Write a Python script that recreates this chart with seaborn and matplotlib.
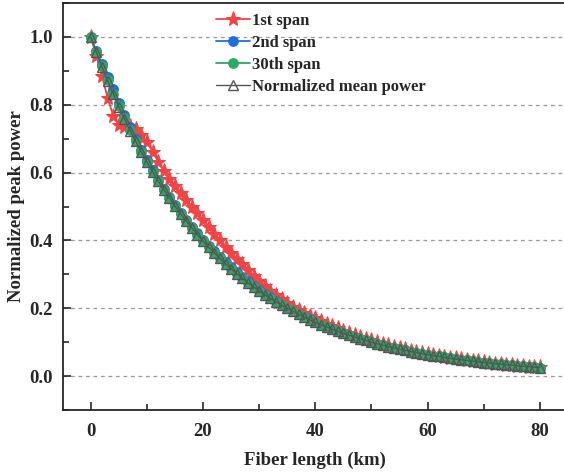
import numpy as np
import pandas as pd
import matplotlib
matplotlib.use('Agg')
import matplotlib.pyplot as plt
import seaborn as sns
from matplotlib.ticker import MultipleLocator

# fiber length (km), one point per km
fiber_km = list(range(0, 81))

# 1st span
span_1st = [1.000, 0.945, 0.885, 0.820, 0.768, 0.740, 0.735, 0.736, 0.728, 0.712,
            0.690, 0.662, 0.632, 0.606, 0.582, 0.560, 0.540, 0.520, 0.500, 0.480,
            0.460, 0.440, 0.420, 0.400, 0.380, 0.362, 0.345, 0.329, 0.312, 0.296,
            0.280, 0.265, 0.251, 0.238, 0.226, 0.215, 0.205, 0.196, 0.187, 0.178,
            0.170, 0.162, 0.155, 0.148, 0.141, 0.134, 0.128, 0.122, 0.116, 0.110,
            0.105, 0.100, 0.095, 0.091, 0.087, 0.083, 0.079, 0.075, 0.072, 0.069,
            0.066, 0.063, 0.060, 0.057, 0.054, 0.052, 0.050, 0.047, 0.045, 0.043,
            0.041, 0.039, 0.037, 0.036, 0.034, 0.032, 0.031, 0.030, 0.028, 0.027,
            0.026]

# 2nd span
span_2nd = [1.000, 0.958, 0.920, 0.882, 0.845, 0.806, 0.769, 0.734, 0.700, 0.667,
            0.636, 0.607, 0.579, 0.553, 0.528, 0.504, 0.482, 0.460, 0.440, 0.421,
            0.402, 0.385, 0.368, 0.352, 0.336, 0.321, 0.307, 0.293, 0.280, 0.267,
            0.255, 0.243, 0.232, 0.221, 0.211, 0.201, 0.192, 0.183, 0.175, 0.167,
            0.159, 0.152, 0.145, 0.138, 0.132, 0.126, 0.120, 0.115, 0.110, 0.105,
            0.100, 0.095, 0.091, 0.087, 0.083, 0.079, 0.076, 0.072, 0.069, 0.066,
            0.063, 0.060, 0.058, 0.055, 0.052, 0.050, 0.048, 0.046, 0.044, 0.042,
            0.040, 0.038, 0.036, 0.035, 0.033, 0.032, 0.030, 0.029, 0.028, 0.026,
            0.025]

# 30th span
span_30th = [1.000, 0.955, 0.913, 0.872, 0.833, 0.795, 0.760, 0.725, 0.693, 0.662,
             0.632, 0.603, 0.576, 0.550, 0.525, 0.501, 0.479, 0.457, 0.437, 0.417,
             0.398, 0.380, 0.363, 0.347, 0.331, 0.316, 0.302, 0.288, 0.275, 0.263,
             0.251, 0.240, 0.229, 0.219, 0.209, 0.200, 0.191, 0.182, 0.174, 0.166,
             0.158, 0.151, 0.145, 0.138, 0.132, 0.126, 0.120, 0.115, 0.110, 0.105,
             0.100, 0.095, 0.091, 0.087, 0.083, 0.079, 0.076, 0.072, 0.069, 0.066,
             0.063, 0.060, 0.058, 0.055, 0.052, 0.050, 0.048, 0.046, 0.044, 0.042,
             0.040, 0.038, 0.036, 0.035, 0.033, 0.032, 0.030, 0.029, 0.028, 0.026,
             0.025]

# normalized mean power
mean_power = [1.000, 0.955, 0.912, 0.871, 0.832, 0.794, 0.759, 0.724, 0.692, 0.661,
              0.631, 0.603, 0.575, 0.550, 0.525, 0.501, 0.479, 0.457, 0.437, 0.417,
              0.398, 0.380, 0.363, 0.347, 0.331, 0.316, 0.302, 0.288, 0.275, 0.263,
              0.251, 0.240, 0.229, 0.219, 0.209, 0.200, 0.191, 0.182, 0.174, 0.166,
              0.158, 0.151, 0.145, 0.138, 0.132, 0.126, 0.120, 0.115, 0.110, 0.105,
              0.100, 0.095, 0.091, 0.087, 0.083, 0.079, 0.076, 0.072, 0.069, 0.066,
              0.063, 0.060, 0.058, 0.055, 0.052, 0.050, 0.048, 0.046, 0.044, 0.042,
              0.040, 0.038, 0.036, 0.035, 0.033, 0.032, 0.030, 0.029, 0.028, 0.026,
              0.025]

sns.set_style('ticks')
plt.rcParams['font.family'] = ['Liberation Serif', 'DejaVu Serif']
plt.rcParams['font.weight'] = 'bold'
plt.rcParams['axes.labelweight'] = 'bold'

fig = plt.figure(figsize=(5.64, 4.74), dpi=100)
ax = fig.add_axes([62.7 / 564, 64 / 474, 505.3 / 564, 407 / 474])

df = pd.DataFrame({'x': fiber_km, 'span1': span_1st, 'span2': span_2nd,
                   'span30': span_30th, 'mean': mean_power})

sns.lineplot(data=df, x='x', y='span1', ax=ax, color='#F24444', marker='*',
             markersize=11, markeredgecolor='#F24444', linewidth=1.3, label='1st span')
sns.lineplot(data=df, x='x', y='span2', ax=ax, color='#1E6FDB', marker='o',
             markersize=7, markeredgecolor='#1E6FDB', linewidth=1.3, label='2nd span')
sns.lineplot(data=df, x='x', y='span30', ax=ax, color='#2FA865', marker='o',
             markersize=7, markeredgecolor='#2FA865', linewidth=1.3, label='30th span')
sns.lineplot(data=df, x='x', y='mean', ax=ax, color='#555555', marker='^',
             markersize=7, markerfacecolor='none', markeredgecolor='#555555',
             markeredgewidth=1.0, linewidth=1.0, label='Normalized mean power')

ax.set_xlim(-5, 85)
ax.set_ylim(-0.1, 1.1)
ax.xaxis.set_major_locator(MultipleLocator(20))
ax.xaxis.set_minor_locator(MultipleLocator(10))
ax.yaxis.set_major_locator(MultipleLocator(0.2))
ax.yaxis.set_minor_locator(MultipleLocator(0.1))
ax.tick_params(which='both', direction='in', width=1.2, labelsize=13.5)
ax.tick_params(which='major', length=6)
ax.tick_params(which='minor', length=4)
ax.tick_params(axis='x', which='major', pad=9)
ax.tick_params(axis='y', which='major', pad=7)
for lab in ax.get_xticklabels() + ax.get_yticklabels():
    lab.set_fontweight('bold')
for sp in ax.spines.values():
    sp.set_linewidth(1.3)
ax.grid(axis='y', which='major', linestyle=(0, (3, 3)), color='#9a9a9a', linewidth=0.9)
ax.set_axisbelow(True)

ax.set_xlabel('Fiber length (km)', fontsize=13.5, fontweight='bold', labelpad=9)
ax.set_ylabel('Normalized peak power', fontsize=13.5, fontweight='bold', labelpad=3)

ax.legend(loc='upper left', bbox_to_anchor=(208 / 564, 1 - 5 / 474),
          bbox_transform=fig.transFigure, frameon=False, borderpad=0,
          labelspacing=0.35, handlelength=2.0, handletextpad=0.15,
          prop={'family': 'Liberation Serif', 'weight': 'bold', 'size': 12})

fig.savefig('out.png', dpi=100)
